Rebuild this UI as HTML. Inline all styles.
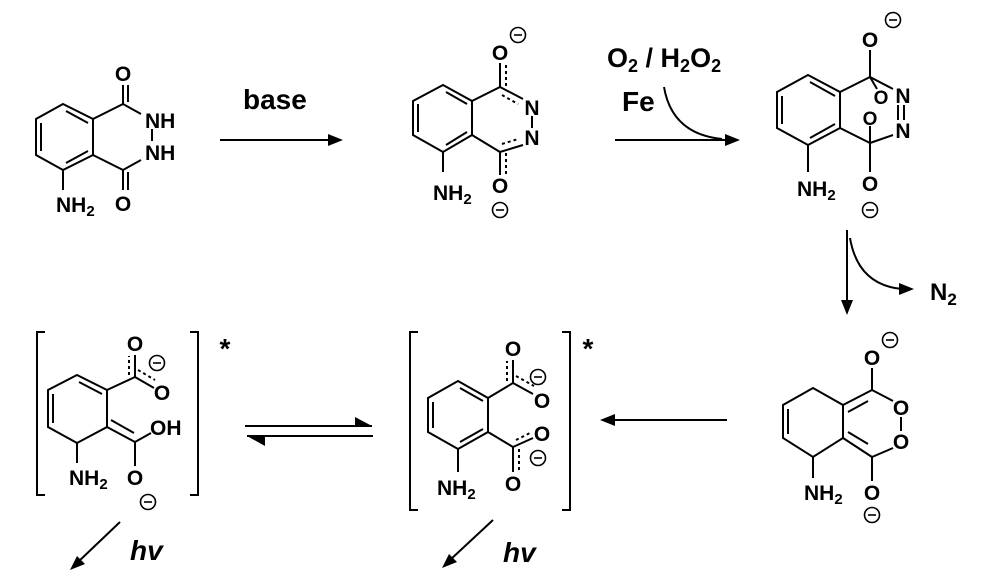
<!DOCTYPE html>
<html><head><meta charset="utf-8"><style>
html,body{margin:0;padding:0;background:#fff;}
svg{display:block;}
text{font-family:"Liberation Sans",Arial,sans-serif;font-weight:bold;fill:#000;}
.a{font-size:21px;}
.s{font-size:15px;}
line,polyline,path,polygon.r{stroke:#000;stroke-width:2;fill:none;}
.d{stroke-dasharray:3 3;}
.h{fill:#000;stroke:none;}
.c circle{fill:none;stroke:#000;stroke-width:1.6;}
.c line{stroke-width:1.6;}
</style></head><body>
<svg width="1000" height="587" viewBox="0 0 1000 587" xmlns="http://www.w3.org/2000/svg">
<defs>
<g id="m" class="c"><circle cx="0" cy="0" r="7.5"/><line x1="-4" y1="0" x2="4" y2="0"/></g>
</defs>

<!-- Structure 1: luminol -->
<polygon class="r" points="63,104 93,119 93,155 63,170 36,155 36,119"/>
<line x1="41" y1="123" x2="41" y2="151"/>
<line x1="66" y1="111" x2="88" y2="123"/>
<line x1="88" y1="151" x2="66" y2="163"/>
<polyline points="93,119 123,104 141,114"/>
<polyline points="141,160 123,170 93,155"/>
<line x1="152" y1="129" x2="152" y2="141"/>
<line x1="123" y1="104" x2="123" y2="85"/><line x1="128" y1="102" x2="128" y2="85"/>
<line x1="123" y1="170" x2="123" y2="190"/><line x1="128" y1="172" x2="128" y2="190"/>
<text class="a" x="123" y="81" text-anchor="middle">O</text>
<text class="a" x="123" y="211" text-anchor="middle">O</text>
<text class="a" x="145" y="128">NH</text>
<text class="a" x="145" y="160">NH</text>
<line x1="63" y1="170" x2="63" y2="190"/>
<text class="a" x="56" y="212">NH<tspan class="s" dy="4">2</tspan></text>

<!-- base arrow -->
<line x1="220" y1="140" x2="333" y2="140"/>
<polygon class="h" points="343,140 328,134 328,146"/>
<text x="243" y="109" style="font-size:28px">base</text>

<!-- Structure 2 -->
<polygon class="r" points="443,85 472,101 472,135 443,152 413,135 413,101"/>
<line x1="418" y1="104" x2="418" y2="132"/>
<line x1="446" y1="92" x2="467" y2="104"/>
<line x1="467" y1="132" x2="446" y2="145"/>
<polyline points="472,101 500,87 523,99"/>
<line class="d" x1="502" y1="95" x2="518" y2="104"/>
<polyline points="523,145 500,152 472,135"/>
<line class="d" x1="502" y1="144" x2="518" y2="139"/>
<line x1="532" y1="116" x2="532" y2="128"/>
<line x1="500" y1="87" x2="500" y2="63"/><line class="d" x1="506" y1="86" x2="506" y2="64"/>
<line x1="500" y1="152" x2="500" y2="175"/><line class="d" x1="506" y1="153" x2="506" y2="175"/>
<text class="a" x="500" y="60" text-anchor="middle">O</text>
<use href="#m" x="518" y="35"/>
<text class="a" x="532" y="115" text-anchor="middle">N</text>
<text class="a" x="532" y="145" text-anchor="middle">N</text>
<text class="a" x="500" y="193" text-anchor="middle">O</text>
<use href="#m" x="500" y="210"/>
<line x1="443" y1="152" x2="443" y2="172"/>
<text class="a" x="433" y="200">NH<tspan class="s" dy="4">2</tspan></text>

<!-- O2/H2O2 arrow -->
<text x="607" y="67" style="font-size:27px">O<tspan style="font-size:18px" dy="5">2</tspan><tspan dy="-5"> / H</tspan><tspan style="font-size:18px" dy="5">2</tspan><tspan dy="-5">O</tspan><tspan style="font-size:18px" dy="5">2</tspan></text>
<text x="622" y="111" style="font-size:28px">Fe</text>
<line x1="615" y1="140" x2="727" y2="140"/>
<polygon class="h" points="740,140 725,134 725,146"/>
<path d="M664,87 Q672,134 722,139"/>

<!-- Structure 3 -->
<polygon class="r" points="808,75 840,92 840,128 808,145 777,128 777,92"/>
<line x1="782" y1="96" x2="782" y2="124"/>
<line x1="810" y1="82" x2="835" y2="96"/>
<line x1="835" y1="124" x2="810" y2="138"/>
<polyline points="840,92 870,77 893,89"/>
<polyline points="893,135 870,143 840,128"/>
<line x1="898" y1="105" x2="898" y2="120"/><line x1="904" y1="105" x2="904" y2="120"/>
<line x1="870" y1="77" x2="870" y2="50"/>
<line x1="870" y1="77" x2="877" y2="89"/>
<line x1="870" y1="126" x2="870" y2="143"/>
<line x1="870" y1="143" x2="870" y2="172"/>
<text class="a" x="870" y="47" text-anchor="middle">O</text>
<use href="#m" x="893" y="20"/>
<text class="a" x="903" y="103" text-anchor="middle">N</text>
<text class="a" x="903" y="138" text-anchor="middle">N</text>
<text x="881" y="104" text-anchor="middle" style="font-size:19px">O</text>
<text x="870" y="125" text-anchor="middle" style="font-size:19px">O</text>
<text class="a" x="870" y="191" text-anchor="middle">O</text>
<use href="#m" x="870" y="210"/>
<line x1="808" y1="145" x2="808" y2="172"/>
<text class="a" x="797" y="196">NH<tspan class="s" dy="4">2</tspan></text>

<!-- down arrow with N2 -->
<line x1="847" y1="230" x2="847" y2="303"/>
<polygon class="h" points="847,315 841,300 853,300"/>
<path d="M850,238 Q858,285 902,289"/>
<polygon class="h" points="914,289 899,283 899,295"/>
<text x="930" y="300" style="font-size:24px">N<tspan style="font-size:17px" dy="5">2</tspan></text>

<!-- Structure 5 -->
<polygon class="r" points="813,388 843,405 843,438 813,457 783,438 783,405"/>
<line x1="788" y1="409" x2="788" y2="434"/>
<line x1="843" y1="405" x2="872" y2="390"/>
<line x1="848" y1="412" x2="868" y2="401"/>
<line x1="843" y1="438" x2="872" y2="457"/>
<line x1="848" y1="432" x2="868" y2="444"/>
<line x1="872" y1="390" x2="872" y2="368"/>
<line x1="872" y1="390" x2="893" y2="401"/>
<line x1="901" y1="417" x2="901" y2="431"/>
<line x1="893" y1="448" x2="872" y2="457"/>
<line x1="872" y1="457" x2="872" y2="481"/>
<text class="a" x="872" y="365" text-anchor="middle">O</text>
<use href="#m" x="890" y="340"/>
<text class="a" x="901" y="415" text-anchor="middle">O</text>
<text class="a" x="901" y="449" text-anchor="middle">O</text>
<text class="a" x="872" y="500" text-anchor="middle">O</text>
<use href="#m" x="872" y="515"/>
<line x1="813" y1="457" x2="813" y2="478"/>
<text class="a" x="804" y="500">NH<tspan class="s" dy="4">2</tspan></text>

<!-- left arrow -->
<line x1="612" y1="420" x2="727" y2="420"/>
<polygon class="h" points="600,420 615,414 615,426"/>

<!-- Middle bracketed structure -->
<path d="M418,332 H410 V510 H418"/>
<path d="M562,332 H570 V510 H562"/>
<text x="588" y="358" text-anchor="middle" style="font-size:28px">*</text>
<polygon class="r" points="458,381 488,398 488,432 458,449 428,432 428,398"/>
<line x1="433" y1="402" x2="433" y2="428"/>
<line x1="460" y1="388" x2="483" y2="401"/>
<line x1="483" y1="429" x2="460" y2="442"/>
<line x1="488" y1="398" x2="513" y2="383"/>
<line x1="513" y1="383" x2="513" y2="360"/><line class="d" x1="507" y1="381" x2="507" y2="361"/>
<line x1="513" y1="383" x2="533" y2="394"/><line class="d" x1="516" y1="376" x2="534" y2="386"/>
<line x1="488" y1="432" x2="513" y2="447"/>
<line x1="513" y1="447" x2="533" y2="438"/><line class="d" x1="516" y1="440" x2="532" y2="432"/>
<line x1="513" y1="447" x2="513" y2="472"/><line class="d" x1="519" y1="449" x2="519" y2="471"/>
<text class="a" x="513" y="356" text-anchor="middle">O</text>
<text class="a" x="542" y="408" text-anchor="middle">O</text>
<use href="#m" x="538" y="377"/>
<text class="a" x="542" y="441" text-anchor="middle">O</text>
<use href="#m" x="538" y="458"/>
<text class="a" x="513" y="491" text-anchor="middle">O</text>
<line x1="458" y1="449" x2="458" y2="472"/>
<text class="a" x="437" y="495">NH<tspan class="s" dy="4">2</tspan></text>
<line x1="493" y1="520" x2="450" y2="560"/>
<polygon class="h" points="442,568 457,562 449,554"/>
<text x="503" y="562" style="font-size:28px;font-style:italic">hv</text>

<!-- equilibrium -->
<line x1="245" y1="426" x2="372" y2="426"/>
<polygon class="h" points="372,426 355,417 355,426"/>
<line x1="247" y1="436" x2="373" y2="436"/>
<polygon class="h" points="247,436 265,446 265,436"/>

<!-- Left bracketed structure -->
<path d="M45,332 H37 V495 H45"/>
<path d="M190,332 H198 V495 H190"/>
<text x="225" y="358" text-anchor="middle" style="font-size:28px">*</text>
<polygon class="r" points="77,375 107,390 107,427 77,443 48,427 48,390"/>
<line x1="53" y1="394" x2="53" y2="423"/>
<line x1="79" y1="382" x2="102" y2="394"/>
<line x1="107" y1="390" x2="135" y2="377"/>
<line x1="135" y1="377" x2="135" y2="355"/><line class="d" x1="129" y1="375" x2="129" y2="356"/>
<line x1="135" y1="377" x2="154" y2="388"/><line class="d" x1="138" y1="370" x2="155" y2="380"/>
<line x1="107" y1="427" x2="135" y2="442"/>
<line x1="111" y1="420" x2="134" y2="433"/>
<line x1="135" y1="442" x2="151" y2="433"/>
<line x1="135" y1="442" x2="135" y2="466"/>
<text class="a" x="135" y="351" text-anchor="middle">O</text>
<use href="#m" x="157" y="363"/>
<text class="a" x="162" y="400" text-anchor="middle">O</text>
<text class="a" x="150" y="435">OH</text>
<text class="a" x="135" y="485" text-anchor="middle">O</text>
<use href="#m" x="148" y="502"/>
<line x1="77" y1="443" x2="77" y2="463"/>
<text class="a" x="69" y="485">NH<tspan class="s" dy="4">2</tspan></text>
<line x1="120" y1="522" x2="78" y2="562"/>
<polygon class="h" points="70,570 85,564 77,556"/>
<text x="130" y="560" style="font-size:28px;font-style:italic">hv</text>
</svg>
</body></html>
